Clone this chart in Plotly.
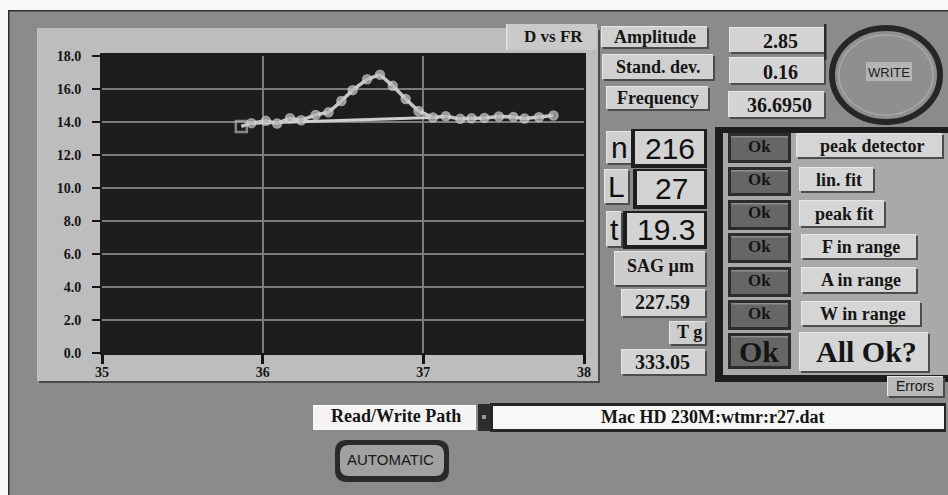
import plotly.graph_objects as go

# ---------------- data ----------------
freq = [35.867, 35.93, 36.02, 36.09, 36.17, 36.24, 36.33, 36.41, 36.49, 36.56,
        36.65, 36.73, 36.81, 36.89, 36.97, 37.06, 37.14, 37.23, 37.30, 37.38,
        37.47, 37.56, 37.63, 37.72, 37.81]
diam = [13.73, 13.93, 14.07, 13.91, 14.23, 14.11, 14.43, 14.59, 15.27, 15.93,
        16.59, 16.87, 16.19, 15.39, 14.67, 14.27, 14.35, 14.19, 14.23, 14.25,
        14.33, 14.31, 14.21, 14.29, 14.39]
fit_freq = [35.93, 37.05]
fit_diam = [13.92, 14.28]

x_ticks = [35, 36, 37, 38]
x_tick_labels = ["35", "36", "37", "38"]

readout_labels = ["Amplitude", "Stand. dev.", "Frequency"]
readout_values = ["2.85", "0.16", "36.6950"]
counters = [("n", "216"), ("L", "27"), ("t", "19.3")]
sag_value = "227.59"
tg_value = "333.05"
checks = ["peak detector", "lin. fit", "peak fit", "F in range", "A in range", "W in range"]
path_text = "Mac HD 230M:wtmr:r27.dat"

# ---------------- pixel helpers (page pixel coordinates) ----------------
W, H = 948, 495
X0, X1 = 102, 584   # pixel of x=35 / x=38
Y0, Y1 = 353, 56    # pixel of y=0 / y=18
SERIF = "Liberation Serif, Times New Roman, serif"
SANS = "Liberation Sans, Arial, sans-serif"
NARROW = "Liberation Sans Narrow, Liberation Sans, Arial, sans-serif"


def px(x):
    return (x - X0) / (X1 - X0)


def py(y):
    return (Y0 - y) / (Y0 - Y1)


shapes = []
annotations = []


def rect(x0, y0, x1, y1, fill, line=None, lw=0):
    shapes.append(dict(type="rect", xref="paper", yref="paper",
                       x0=px(x0), x1=px(x1), y0=py(y1), y1=py(y0),
                       fillcolor=fill, line=dict(width=lw, color=line or fill),
                       layer="below"))


def bevel(x0, y0, x1, y1, fill, dark="#4c4c4c", light="#e6e6e6", d=2):
    rect(x0 - 1, y0 - 1, x1, y1, light)
    rect(x0 + 1, y0 + 1, x1 + d, y1 + d, dark)
    rect(x0, y0, x1, y1, fill)


def text(cx, cy, s, size, family=SERIF, bold=True, color="#151515"):
    annotations.append(dict(xref="paper", yref="paper", x=px(cx), y=py(cy),
                            text=f"<b>{s}</b>" if bold else s, showarrow=False,
                            xanchor="center", yanchor="middle",
                            font=dict(family=family, size=size, color=color)))


def roundrect(x0, y0, x1, y1, r, fill, line="#2a2a2a", lw=0):
    pts = (f"M {px(x0 + r)} {py(y0)} L {px(x1 - r)} {py(y0)} "
           f"Q {px(x1)} {py(y0)} {px(x1)} {py(y0 + r)} L {px(x1)} {py(y1 - r)} "
           f"Q {px(x1)} {py(y1)} {px(x1 - r)} {py(y1)} L {px(x0 + r)} {py(y1)} "
           f"Q {px(x0)} {py(y1)} {px(x0)} {py(y1 - r)} L {px(x0)} {py(y0 + r)} "
           f"Q {px(x0)} {py(y0)} {px(x0 + r)} {py(y0)} Z")
    shapes.append(dict(type="path", xref="paper", yref="paper", path=pts,
                       fillcolor=fill, line=dict(width=lw, color=line), layer="below"))


BG = "#8b8b8b"

# white strips and border
rect(0, 0, W, 10, "#fafafa")
rect(0, 0, 8, H, "#fafafa")
rect(8, 10, W, 11.5, "#2e2e2e")
rect(8, 10, 9.5, H, "#2e2e2e")

# graph panel
rect(39, 30, 600, 383, "#4a4a4a")
rect(37, 28, 598, 381, "#bdbdbd")
rect(506, 24, 597, 50, "#c9c9c9")
rect(506, 24, 507.5, 50, "#e4e4e4")
rect(100, 53, 586, 355, "#1d1d1d")
text(553, 37, "D vs FR", 17)

# readouts
lab_boxes = [(602, 27, 707, 47), (603, 55, 713, 79), (607, 87, 708, 109)]
val_boxes = [(730, 28, 824, 52), (730, 58, 824, 83), (729, 92, 824, 117)]
for (b, lab) in zip(lab_boxes, readout_labels):
    bevel(*b, "#d0d0d0")
    text((b[0] + b[2]) / 2, (b[1] + b[3]) / 2, lab, 18)
for (b, val) in zip(val_boxes, readout_values):
    bevel(*b, "#d4d4d4")
    text((b[0] + b[2]) / 2 + 3, (b[1] + b[3]) / 2 + 1, val, 20)
rect(824, 24, 826.5, 60, "#2a2a2a")

# WRITE button
shapes.append(dict(type="circle", xref="paper", yref="paper",
                   x0=px(832), x1=px(940), y0=py(122), y1=py(28),
                   fillcolor="#8f8f8f", line=dict(width=6, color="#262626"), layer="below"))
shapes.append(dict(type="circle", xref="paper", yref="paper",
                   x0=px(839), x1=px(933), y0=py(115), y1=py(35),
                   fillcolor="rgba(0,0,0,0)", line=dict(width=1.5, color="#a8a8a8"), layer="below"))
rect(866, 62, 912, 81, "#b4b4b4")
text(889, 72, "WRITE", 13, family=NARROW, bold=False, color="#1c1c1c")

# counters n, L, t
cnt_rows = [((607, 132, 632, 163), (633, 130, 705, 166)),
            ((605, 170, 628, 203), (635, 170, 705, 207)),
            ((607, 212, 621, 246), (625, 212, 705, 247))]
for ((lb, vb), (lt, vt)) in zip(cnt_rows, counters):
    bevel(*lb, "#cfcfcf")
    text((lb[0] + lb[2]) / 2, (lb[1] + lb[3]) / 2, lt, 30, family=SANS, bold=False, color="#101010")
    rect(vb[0] - 2, vb[1] - 1, vb[2] + 2, vb[3] + 2, "#1e1e1e")
    rect(vb[0] + 2, vb[1] + 1, vb[2] - 1, vb[3] - 2, "#d3d3d3")
    text((vb[0] + vb[2]) / 2 + 1, (vb[1] + vb[3]) / 2, vt, 30, family=SANS, bold=False, color="#101010")

bevel(615, 252, 705, 285, "#cdcdcd")
text(660, 266, "SAG µm", 18)
bevel(622, 290, 705, 316, "#d3d3d3")
text(662, 302, sag_value, 20)
bevel(670, 322, 705, 344, "#cdcdcd")
text(689, 332, "T g", 18)
bevel(622, 350, 705, 374, "#d3d3d3")
text(662, 362, tg_value, 20)

# check panel
rect(715, 127, W, 382, "#1d1d1d")
rect(723, 133, W, 375, "#a9a9a9")
btn_rows = [(133, 163), (167, 196), (200, 230), (233, 263), (267, 297), (300, 330), (333, 369)]
lab_rows = [(797, 134, 942, 157), (800, 168, 873, 191), (800, 201, 884, 226),
            (802, 235, 916, 258), (802, 268, 916, 292), (802, 302, 920, 325)]
for i, (y0, y1) in enumerate(btn_rows):
    rect(728, y0, 791, y1, "#2c2c2c")
    rect(731, y0 + 3, 788, y1 - 3, "#666666")
    rect(731, y0 + 3, 788, y0 + 4.5, "#8e8e8e")
    big = i == len(btn_rows) - 1
    text(759, (y0 + y1) / 2 - (0 if big else 2), "Ok", 30 if big else 17)
for b, lab in zip(lab_rows, checks):
    bevel(*b, "#d5d5d5")
    text((b[0] + b[2]) / 2 + 2, (b[1] + b[3]) / 2, lab, 18)
bevel(800, 333, 928, 371, "#d5d5d5")
text(866, 351, "All Ok?", 30)
bevel(888, 377, 943, 396, "#b9b9b9")
text(915, 386, "Errors", 14, family=NARROW, bold=False)

# read / write path
rect(313, 405, 476, 430, "#f4f4f4")
rect(313, 405, 476, 406.5, "#ffffff")
text(396, 416, "Read/Write Path", 18)
rect(478, 404, 491, 431, "#2c2c2c")
rect(482, 415, 486, 419, "#9a9a9a")
rect(490, 403, 946, 432, "#262626")
rect(493, 406, 944, 429, "#f8f8f8")
text(712, 417, path_text, 18)

# AUTOMATIC button
roundrect(335, 440, 449, 482, 12, "#2a2a2a")
roundrect(340, 445, 444, 476, 9, "#a1a1a1")
text(390, 459, "AUTOMATIC", 15, family=NARROW, bold=False, color="#181818")

# ---------------- traces ----------------
fig = go.Figure()
fig.add_trace(go.Scatter(x=fit_freq, y=fit_diam, mode="lines",
                         line=dict(color="#cfcfcf", width=3),
                         hoverinfo="skip", showlegend=False))
symbols = ["square-open"] + ["circle"] * (len(freq) - 1)
sizes = [11] + [8] * (len(freq) - 1)
fig.add_trace(go.Scatter(x=freq, y=diam, mode="lines+markers",
                         line=dict(color="#c4c4c4", width=3.5),
                         marker=dict(symbol=symbols, size=sizes, color="#b5b5b5",
                                     line=dict(width=2.5, color="#d2d2d2")),
                         showlegend=False))

fig.update_layout(
    width=W, height=H,
    margin=dict(l=X0, r=W - X1, t=Y1, b=H - Y0, autoexpand=False),
    paper_bgcolor=BG, plot_bgcolor="#1d1d1d",
    shapes=shapes, annotations=annotations,
    xaxis=dict(range=[35, 38], tickvals=x_ticks, ticktext=x_tick_labels,
               showgrid=True, gridcolor="#7c7c7c", gridwidth=2,
               ticks="outside", ticklen=10, tickwidth=3, tickcolor="#151515",
               ticklabelstandoff=-4,
               tickfont=dict(family=SERIF, size=14, color="#151515", weight="bold"),
               zeroline=False, showline=False, fixedrange=True),
    yaxis=dict(range=[0, 18], dtick=2, tick0=0, tickformat=".1f",
               showgrid=True, gridcolor="#7c7c7c", gridwidth=2,
               ticks="outside", ticklen=9, tickwidth=2, tickcolor="#151515",
               ticklabelstandoff=8,
               tickfont=dict(family=SERIF, size=14, color="#151515", weight="bold"),
               zeroline=False, showline=False, fixedrange=True),
)

fig.write_html(
    "out.html",
    config={"displayModeBar": False},
    post_script="document.body.style.margin='0';document.body.style.overflow='hidden';",
)
